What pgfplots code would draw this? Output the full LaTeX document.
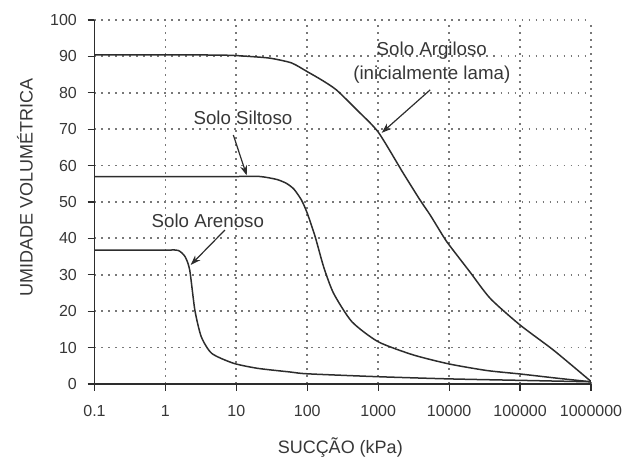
\documentclass[border=0pt]{standalone}
\usepackage{fontspec}
\setmainfont{Liberation Sans}
\usepackage{pgfplots}
\pgfplotsset{compat=1.18}
\usetikzlibrary{arrows.meta}
\definecolor{txt}{RGB}{55,55,55}
\definecolor{crv}{RGB}{45,45,45}
\definecolor{grd}{RGB}{120,120,120}
\begin{document}
\begin{tikzpicture}
\begin{axis}[
  at={(0,0)}, anchor=south west,
  scale only axis, width=248.25pt, height=182pt,
  xmode=log, xmin=0.1, xmax=1000000, ymin=0, ymax=100,
  xtick={0.1,1,10,100,1000,10000,100000,1000000},
  xticklabels={0.1,1,10,100,1000,10000,100000,1000000},
  xminorticks=false, yminorticks=false,
  ytick={0,10,...,100},
  axis x line*=bottom, axis y line*=left,
  axis line style={color=crv, line width=0.7pt},
  tick align=outside, major tick length=3.5pt,
  tick style={color=crv, line width=0.6pt},
  xmajorgrids=true, ymajorgrids=true,
  major grid style={draw=grd, line width=0.9pt, dash pattern=on 0.9pt off 2.6pt},
  /pgf/number format/assume math mode=true,
  ticklabel style={font=\fontsize{8}{9}\selectfont, color=txt},
  xticklabel style={yshift=-3.8pt},
  yticklabel style={xshift=-1.8pt},
  xlabel={SUCÇÃO (kPa)},
  ylabel={UMIDADE VOLUMÉTRICA},
  label style={font=\fontsize{9}{10}\selectfont, color=txt},
  xlabel style={at={(axis description cs:0.495,-0.1758)}, anchor=center},
  ylabel style={at={(axis description cs:-0.14,0.54)}, anchor=center},
]
\addplot[crv, no markers, line width=0.75pt, smooth, tension=0.4] coordinates {
(0.1,90.4) (1,90.4) (3,90.4) (8,90.3) (15,90.0) (30,89.5) (60,88.2) (100,85.8)
(160,83.5) (257,80.8) (500,75.3) (1000,69.2) (2240,58.0) (3900,50.5) (5370,46.5)
(8300,40.5) (10000,38.2) (19600,30.8) (38000,23.5) (100000,16.2) (296000,9.3) (1000000,0.7)
};
\addplot[crv, no markers, line width=0.75pt, smooth, tension=0.4] coordinates {
(0.1,57.0) (1,57.0) (10,57.0) (21.5,57.0) (37,56.2) (51,55.1) (65,53.5) (83,50.5)
(100,46.9) (129,40.5) (170,32.2) (235,24.9) (426,17.1) (1000,11.6) (3100,8.0)
(10000,5.5) (34000,3.7) (100000,2.75) (330000,1.6) (1000000,0.6)
};
\addplot[crv, no markers, line width=0.75pt, smooth, tension=0.4] coordinates {
(0.1,36.8) (1,36.8) (1.51,36.7) (1.89,35.0) (2.2,31.3) (2.6,20.3) (3.2,13.0)
(4.5,8.4) (9.1,5.7) (20,4.3) (57,3.3) (100,2.8) (1000,2.0) (10000,1.4)
(100000,1.0) (1000000,0.6)
};
\begin{scope}[font=\fontsize{9.35}{11}\selectfont, text=txt]
\node at (axis cs:5700,91.6) {Solo Argiloso};
\node at (axis cs:5700,84.9) {(inicialmente lama)};
\node at (axis cs:12.4,73.0) {Solo Siltoso};
\node at (axis cs:3.96,44.9) {Solo Arenoso};
\end{scope}
\begin{scope}[draw=crv, line width=0.6pt, -{Stealth[length=5pt,width=3.5pt]}]
\draw (axis cs:5400,80.8) -- (axis cs:1120,69.0);
\draw (axis cs:9.06,68.4) -- (axis cs:14,57.3);
\draw (axis cs:6.9,42.3) -- (axis cs:2.27,32.7);
\end{scope}
\end{axis}
\pgfresetboundingbox
\path (-47.25pt,-37pt) rectangle (263.75pt,192pt);
\end{tikzpicture}
\end{document}
